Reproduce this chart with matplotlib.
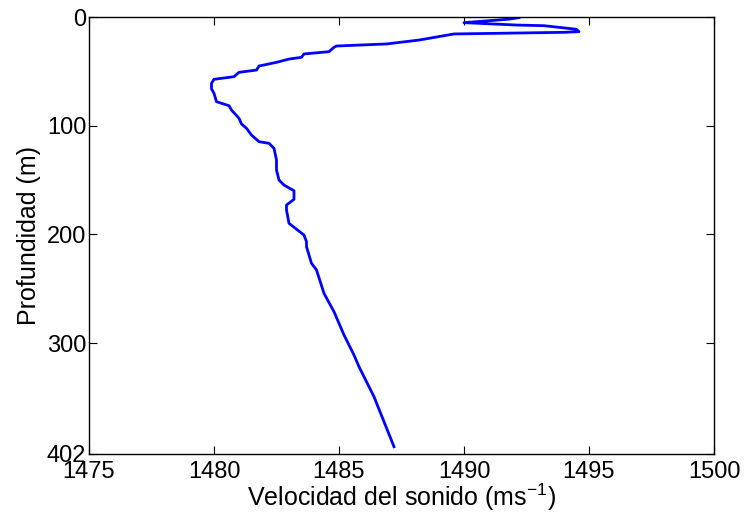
import matplotlib
matplotlib.use("Agg")
import matplotlib.pyplot as plt

plt.rcParams['font.family'] = ['Liberation Sans', 'DejaVu Sans']
plt.rcParams['mathtext.fontset'] = 'custom'
plt.rcParams['mathtext.rm'] = 'Liberation Sans'
plt.rcParams['mathtext.it'] = 'Liberation Sans'

speed = [1492.2, 1491.8, 1490.0, 1492.1, 1493.2, 1494.5, 1494.6, 1494.0, 1489.6,
         1488.2, 1486.9, 1484.9, 1484.8, 1484.6, 1483.6, 1483.5, 1483.0, 1482.5,
         1481.8, 1481.7, 1481.0, 1480.8, 1480.0, 1479.9, 1479.9, 1480.0, 1480.1,
         1480.6, 1480.7, 1481.0, 1481.1, 1481.3, 1481.5, 1481.8, 1482.2, 1482.4,
         1482.5, 1482.5, 1482.6, 1482.8, 1483.2, 1483.2, 1482.9, 1482.9, 1483.0,
         1483.6, 1483.7, 1483.7, 1483.9, 1484.1, 1484.4, 1484.8, 1485.2, 1485.6,
         1485.8, 1486.4, 1487.2]
depth = [0.6, 2.0, 5.2, 7.4, 8.0, 11.3, 13.5, 14.1, 15.6,
         21.2, 24.8, 26.7, 27.9, 31.9, 34.0, 37.1, 38.7, 41.7,
         45.1, 48.8, 50.9, 54.9, 57.3, 61.0, 66.2, 70.2, 77.9,
         81.6, 85.6, 93.2, 98.4, 102.4, 108.6, 114.7, 116.2, 120.8,
         131.6, 140.8, 150.0, 154.6, 159.8, 167.7, 173.0, 177.6, 189.8,
         200.6, 206.7, 211.3, 226.6, 232.7, 254.2, 271.1, 292.5, 311.0,
         321.7, 349.3, 395.3]

xticks = [1475, 1480, 1485, 1490, 1495, 1500]
yticks = [0, 100, 200, 300, 402]

fig = plt.figure(figsize=(7.44, 5.14), dpi=100)
ax = fig.add_axes([89/744, 1-454/514, 625/744, 437/514])
ax.plot(speed, depth, color='#0000ff', lw=2)
ax.set_xlim(1475, 1500)
ax.set_ylim(402, 0)
ax.set_xticks(xticks)
ax.set_yticks(yticks)
ax.tick_params(direction='in', length=6, width=0.8, top=True, right=True,
               labelsize=17)
ax.tick_params(axis='x', pad=5)
ax.tick_params(axis='y', pad=2)
for s in ax.spines.values():
    s.set_linewidth(1)
ax.set_xlabel('Velocidad del sonido (ms$^{-1}$)', fontsize=18, labelpad=-1)
ax.set_ylabel('Profundidad (m)', fontsize=18, labelpad=4)
fig.savefig('out.png', dpi=100)
